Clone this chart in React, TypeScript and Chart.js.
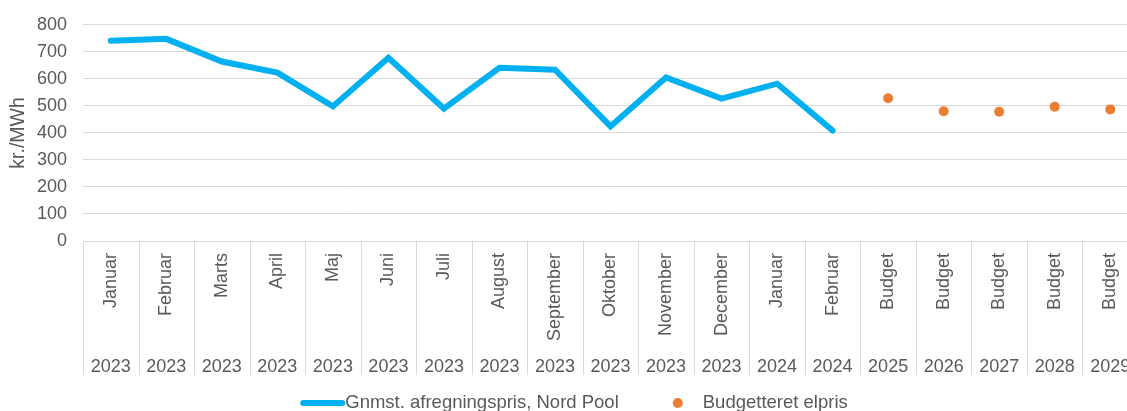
import React, { useEffect, useRef } from 'react';
import { Chart, registerables } from 'chart.js';

Chart.register(...registerables);

const monthLabels = [
  'Januar', 'Februar', 'Marts', 'April', 'Maj', 'Juni', 'Juli', 'August', 'September',
  'Oktober', 'November', 'December', 'Januar', 'Februar', 'Budget', 'Budget', 'Budget', 'Budget', 'Budget',
];
const yearLabels = [
  '2023', '2023', '2023', '2023', '2023', '2023', '2023', '2023', '2023', '2023', '2023', '2023',
  '2024', '2024', '2025', '2026', '2027', '2028', '2029',
];
const nordPoolValues = [741, 748, 664, 623, 498, 678, 490, 641, 634, 424, 605, 527, 582, 409, null, null, null, null, null];
const budgetValues = [null, null, null, null, null, null, null, null, null, null, null, null, null, null, 528, 480, 478, 497, 487];

const nordPoolLabel = 'Gnmst. afregningspris, Nord Pool';
const budgetLabel = 'Budgetteret elpris';

const FONT = "'Liberation Sans', Arial, sans-serif";
const TEXT = '#595959';
const GRID = '#d9d9d9';
const BLUE = '#00b0f0';
const ORANGE = '#ed7d31';

const separatorPlugin = {
  id: 'separators',
  afterDraw(chart: any) {
    const x = chart.scales.x;
    const x2 = chart.scales.x2;
    const n = monthLabels.length;
    const w = x.getPixelForValue(1) - x.getPixelForValue(0);
    const ctx = chart.ctx;
    ctx.save();
    ctx.strokeStyle = GRID;
    ctx.lineWidth = 1;
    ctx.beginPath();
    for (let i = 0; i <= n; i++) {
      const px = Math.round(x.getPixelForValue(i) - w / 2) + 0.5;
      ctx.moveTo(px, x.top);
      ctx.lineTo(px, x2.bottom - 2);
    }
    ctx.stroke();
    ctx.restore();
  },
};

const legendPlugin = {
  id: 'customLegend',
  afterDraw(chart: any) {
    const ctx = chart.ctx;
    ctx.save();
    ctx.font = `18.5px ${FONT}`;
    ctx.fillStyle = TEXT;
    ctx.textBaseline = 'middle';
    const t1 = ctx.measureText(nordPoolLabel).width;
    const t2 = ctx.measureText(budgetLabel).width;
    const lineW = 45;
    const gap1 = 59;
    const gap2 = 25;
    const total = lineW + t1 + gap1 + gap2 + t2;
    const xs = (chart.width - total) / 2;
    const y = chart.height - 8;
    ctx.strokeStyle = BLUE;
    ctx.lineWidth = 6;
    ctx.lineCap = 'round';
    ctx.beginPath();
    ctx.moveTo(xs + 3, y);
    ctx.lineTo(xs + lineW - 3, y);
    ctx.stroke();
    ctx.fillText(nordPoolLabel, xs + lineW, y);
    const dotX = xs + lineW + t1 + gap1;
    ctx.fillStyle = ORANGE;
    ctx.beginPath();
    ctx.arc(dotX, y, 5, 0, Math.PI * 2);
    ctx.fill();
    ctx.fillStyle = TEXT;
    ctx.fillText(budgetLabel, dotX + gap2, y);
    ctx.restore();
  },
};

export default function App() {
  const ref = useRef<HTMLCanvasElement>(null);
  useEffect(() => {
    document.body.style.margin = '0';
    document.body.style.overflow = 'hidden';
    const chart = new Chart(ref.current as HTMLCanvasElement, {
      type: 'line',
      data: {
        labels: monthLabels,
        datasets: [
          {
            label: nordPoolLabel,
            data: nordPoolValues,
            borderColor: BLUE,
            backgroundColor: BLUE,
            borderWidth: 6,
            borderCapStyle: 'round',
            pointRadius: 0,
            tension: 0,
            xAxisID: 'x',
          },
          {
            label: budgetLabel,
            data: budgetValues,
            showLine: false,
            pointRadius: 5,
            pointBackgroundColor: ORANGE,
            pointBorderWidth: 0,
            backgroundColor: ORANGE,
            borderColor: ORANGE,
            xAxisID: 'x',
          },
        ],
      },
      plugins: [separatorPlugin, legendPlugin],
      options: {
        animation: false,
        responsive: false,
        layout: { padding: { top: 0, bottom: 34, left: 0, right: 10 } },
        plugins: { legend: { display: false }, tooltip: { enabled: false } },
        scales: {
          x: {
            type: 'category',
            offset: true,
            weight: 0,
            grid: { display: false },
            border: { display: false },
            ticks: {
              autoSkip: false,
              minRotation: 90,
              maxRotation: 90,
              padding: 4,
              color: TEXT,
              font: { family: FONT, size: 18 },
            },
            afterFit(scale: any) { scale.height = 103; },
          },
          x2: {
            type: 'category',
            position: 'bottom',
            labels: yearLabels,
            offset: true,
            weight: 1,
            grid: { display: false },
            border: { display: false },
            ticks: {
              autoSkip: false,
              maxRotation: 0,
              minRotation: 0,
              padding: 4,
              color: TEXT,
              font: { family: FONT, size: 18 },
            },
            afterFit(scale: any) { scale.height = 33; },
          },
          y: {
            min: 0,
            max: 800,
            ticks: { stepSize: 100, padding: 16, color: TEXT, font: { family: FONT, size: 18 } },
            grid: { color: GRID, lineWidth: 1, drawTicks: false },
            border: { display: false },
            title: { display: true, text: 'kr./MWh', color: TEXT, font: { family: FONT, size: 19.5 }, padding: 7 },
            afterFit(scale: any) { scale.width = 83; },
          },
        },
      },
    } as any);
    return () => chart.destroy();
  }, []);
  return (
    <div style={{ position: 'fixed', left: 0, top: -2, width: 1148, height: 413 }}>
      <canvas ref={ref} width={1148} height={413} />
    </div>
  );
}
